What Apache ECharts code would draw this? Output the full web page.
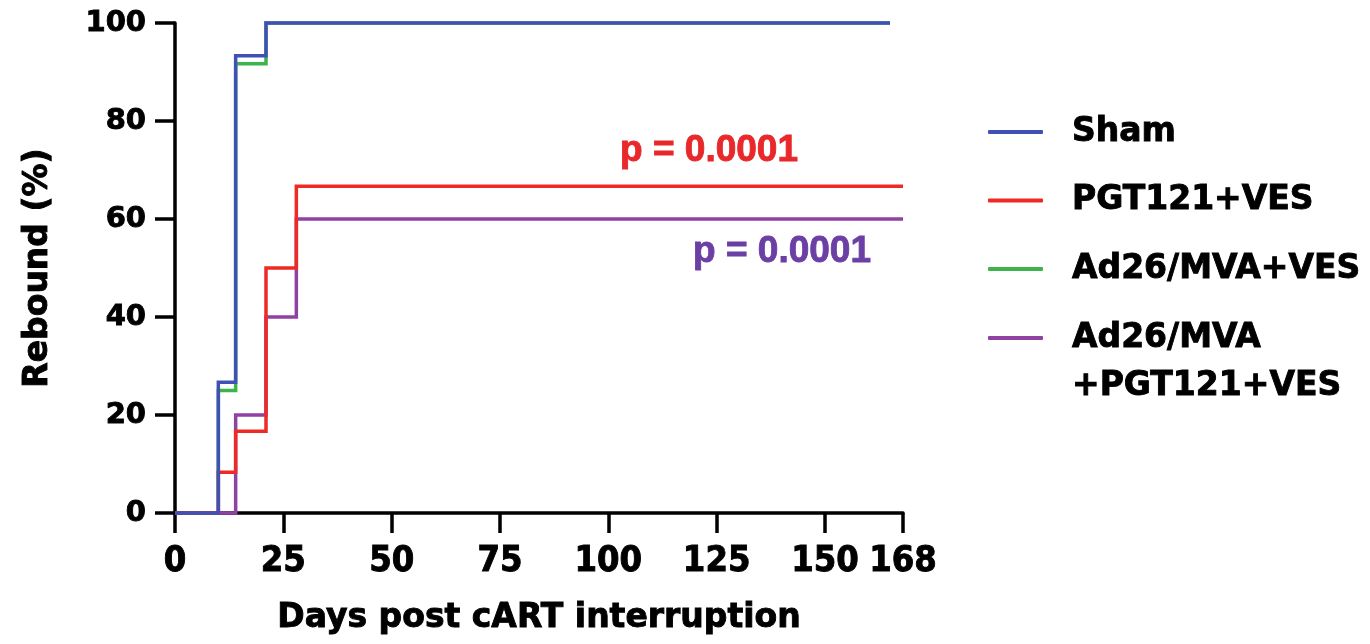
<!DOCTYPE html>
<html>
<head>
<meta charset="utf-8">
<script src="https://cdn.jsdelivr.net/npm/echarts@6/dist/echarts.min.js"></script>
<style>
html,body{margin:0;padding:0;background:#fff;}
#chart{width:1370px;height:644px;}
</style>
</head>
<body>
<div id="chart"></div>
<script>
// ---- data (Kaplan-Meier style step curves) ----
const seriesNames = ['Sham', 'PGT121+VES', 'Ad26/MVA+VES', 'Ad26/MVA +PGT121+VES'];
const shamDays = [0, 10, 14, 21, 165];
const shamPct  = [0, 26.7, 93.3, 100, 100];
const pgtDays  = [0, 10, 14, 21, 28, 168];
const pgtPct   = [0, 8.3, 16.7, 50, 66.7, 66.7];
const adDays   = [0, 10, 14, 21, 165];
const adPct    = [0, 25, 91.7, 100, 100];
const comboDays = [0, 14, 21, 28, 168];
const comboPct  = [0, 20, 40, 60, 60];
const xTicks = [0, 25, 50, 75, 100, 125, 150, 168];
const pLabels = ['p = 0.0001', 'p = 0.0001'];

const colors = { sham: '#3f51b5', pgt: '#ee2a24', ad: '#3cb44a', combo: '#9042a3' };

function pairs(xs, ys) { return xs.map((x, i) => [x, ys[i]]); }

const chart = echarts.init(document.getElementById('chart'), null, { renderer: 'canvas' });

function lineSeries(name, xs, ys, color, z) {
  return {
    name: name, type: 'line', step: 'end', data: pairs(xs, ys),
    symbol: 'none', clip: false, z: z, color: color,
    lineStyle: { width: 3.5, color: color, join: 'miter' },
    itemStyle: { color: color }
  };
}

const heavy = { textBorderColor: '#000', textBorderWidth: 0.9 };
const axisFontY = { fontFamily: 'DejaVu Sans', fontWeight: 'bold', fontSize: 29, color: '#000', ...heavy };
const axisFontX = { fontFamily: '"Liberation Sans Narrow", "DejaVu Sans Condensed", sans-serif', fontWeight: 'bold', fontSize: 36, color: '#000', ...heavy };
const titleFont = { fontFamily: 'DejaVu Sans', fontWeight: 'bold', fontSize: 33, color: '#000', ...heavy };
const legendFont = { fontFamily: 'DejaVu Sans', fontWeight: 'bold', fontSize: 33, color: '#000', lineHeight: 48, padding: [0, 0, 0, 24], ...heavy };

chart.setOption({
  animation: false,
  backgroundColor: '#fff',
  grid: { left: 175, top: 23, right: 467, bottom: 131, containLabel: false, outerBoundsMode: 'none' },
  xAxis: {
    type: 'value', min: 0, max: 168,
    name: 'Days post cART interruption', nameLocation: 'middle', nameGap: 89,
    nameTextStyle: titleFont,
    axisLine: { show: true, lineStyle: { color: '#000', width: 3.5 } },
    axisTick: { show: true, length: 20, lineStyle: { color: '#000', width: 3.5 }, customValues: xTicks },
    axisLabel: { margin: 31, customValues: xTicks, hideOverlap: false, ...axisFontX },
    splitLine: { show: false }
  },
  yAxis: {
    type: 'value', min: 0, max: 100, interval: 20,
    name: 'Rebound (%)', nameLocation: 'middle', nameGap: 120,
    nameTextStyle: titleFont,
    axisLine: { show: true, lineStyle: { color: '#000', width: 3.5 } },
    axisTick: { show: true, length: 20, lineStyle: { color: '#000', width: 3.5 } },
    axisLabel: { margin: 29, ...axisFontY },
    splitLine: { show: false }
  },
  legend: [
    {
      data: seriesNames.slice(0, 3), orient: 'vertical', left: 988, top: 108, padding: 0,
      itemGap: 20.5, itemWidth: 55, itemHeight: 4, icon: 'roundRect', selectedMode: false,
      textStyle: legendFont
    },
    {
      data: seriesNames.slice(3), orient: 'vertical', left: 988, top: 266, padding: 0,
      itemWidth: 55, itemHeight: 4, icon: 'roundRect', selectedMode: false,
      formatter: function (name) { return '\n' + name.split(' ').join('\n'); },
      textStyle: legendFont
    }
  ],
  graphic: [
    { type: 'text', x: 709, y: 151, z: 10, style: { text: pLabels[0], font: 'bold 37px "Liberation Sans", Arial, sans-serif', fill: '#e8282a', stroke: '#e8282a', lineWidth: 0.9, align: 'center', verticalAlign: 'middle' } },
    { type: 'text', x: 782, y: 252, z: 10, style: { text: pLabels[1], font: 'bold 37px "Liberation Sans", Arial, sans-serif', fill: '#6b3fa3', stroke: '#6b3fa3', lineWidth: 0.9, align: 'center', verticalAlign: 'middle' } }
  ],
  series: [
    lineSeries(seriesNames[2], adDays, adPct, colors.ad, 2),
    lineSeries(seriesNames[3], comboDays, comboPct, colors.combo, 3),
    lineSeries(seriesNames[1], pgtDays, pgtPct, colors.pgt, 4),
    lineSeries(seriesNames[0], shamDays, shamPct, colors.sham, 5)
  ]
});
</script>
</body>
</html>
